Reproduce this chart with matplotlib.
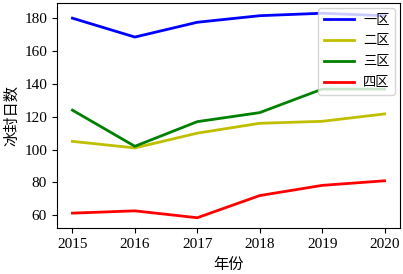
import matplotlib.pyplot as plt

plt.rcParams['font.family'] = ['Liberation Serif', 'Noto Sans CJK SC']

years = [2015, 2016, 2017, 2018, 2019, 2020]
zone1 = [180, 168.5, 177.5, 181.5, 183, 181.5]
zone2 = [105, 101, 110, 116, 117.2, 121.7]
zone3 = [124, 102, 117, 122.5, 136.8, 136.8]
zone4 = [61.3, 62.7, 58.5, 72, 78.2, 81]
labels = ['一区', '二区', '三区', '四区']

fig = plt.figure(figsize=(4.03, 2.74), dpi=100)
ax = fig.add_axes([0.141, 0.168, 0.852, 0.821])

ax.plot(years, zone1, color='b', lw=2, label=labels[0])
ax.plot(years, zone2, color='y', lw=2, label=labels[1])
ax.plot(years, zone3, color='g', lw=2, label=labels[2])
ax.plot(years, zone4, color='r', lw=2, label=labels[3])

ax.set_yticks([60, 80, 100, 120, 140, 160, 180])
ax.tick_params(labelsize=11)
ax.set_xlabel('年份', fontsize=11, family=['Noto Sans CJK SC'], labelpad=4)
ax.set_ylabel('冰封日数', fontsize=11, family=['Noto Sans CJK SC'], labelpad=3)
ax.legend(loc='upper right', prop={'family': 'Noto Sans CJK SC', 'size': 9.5},
          handlelength=2.3, handletextpad=0.7, borderaxespad=0.4,
          labelspacing=0.6)

fig.savefig('out.png', dpi=100)
